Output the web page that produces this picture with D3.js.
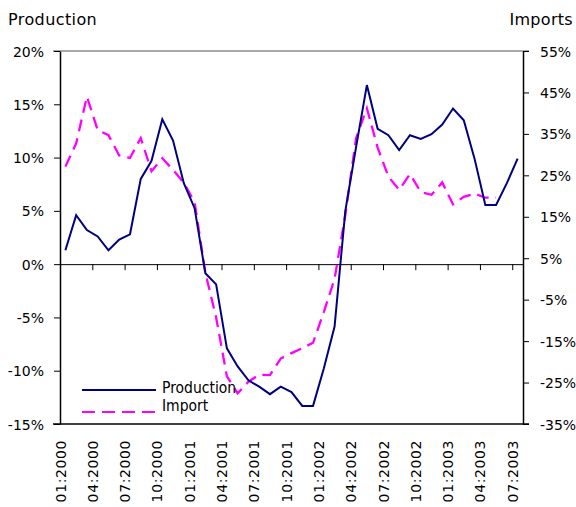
<!DOCTYPE html>
<html><head><meta charset="utf-8">
<script src="https://cdn.jsdelivr.net/npm/d3@7"></script>
<style>
html,body{margin:0;padding:0;background:#fff;}
svg{display:block;}
text{font-family:"DejaVu Sans",sans-serif;fill:#000;}
</style></head>
<body>
<svg id="c" width="576" height="507"></svg>
<script>
const categories = [];
const years = [2000, 2001, 2002, 2003];
years.forEach(y => { for (let m = 1; m <= 12; m++) { categories.push((m < 10 ? "0" + m : "" + m) + ":" + y); } });
categories.splice(43);

const production = [1.3, 4.6, 3.2, 2.6, 1.3, 2.3, 2.8, 8.0, 9.7, 13.6, 11.6, 7.6, 5.25, -0.85, -1.9, -7.9, -9.6, -10.9, -11.5, -12.2, -11.5, -12.0, -13.3, -13.3, -9.8, -5.85, 5.0, 11.0, 16.8, 12.7, 12.1, 10.7, 12.1, 11.75, 12.2, 13.1, 14.6, 13.5, 9.9, 5.55, 5.55, 7.6, 9.9];
const imports = [27.1, 32.7, 44.0, 35.9, 34.7, 29.8, 29.2, 34.0, 26.0, 29.1, 26.3, 23.2, 18.5, 1.5, -9.3, -23.5, -27.6, -24.8, -23.1, -23.2, -19.2, -17.9, -16.7, -15.4, -8.0, 0.0, 15.5, 34.0, 41.2, 31.7, 24.7, 21.5, 25.3, 21.0, 20.3, 23.3, 18.0, 19.8, 20.6, 19.6, 19.6];

const leftTicks = [-15, -10, -5, 0, 5, 10, 15, 20];
const rightTicks = [-35, -25, -15, -5, 5, 15, 25, 35, 45, 55];
const labelEvery = 3;
const seriesNames = ["Production", "Import"];
const seriesColors = ["#000080", "#FF00FF"];
const titleLeft = "Production";
const titleRight = "Imports";

const svg = d3.select("#c");
const L = 60, R = 523, T = 51, B = 424;

const x = d3.scaleBand().domain(categories).range([L, R]).paddingInner(0).paddingOuter(0);
const xIdx = d3.scaleLinear().domain([0, categories.length]).range([L, R]);
const yL = d3.scaleLinear().domain([-15, 20]).range([B, T]);
const yR = d3.scaleLinear().domain([-35, 55]).range([B, T]);
const cx = c => x(c) + x.bandwidth() / 2;

// frame top/bottom
svg.append("line").attr("x1", L - 7).attr("x2", R + 6).attr("y1", T).attr("y2", T).attr("stroke", "#555").attr("stroke-width", 1);
svg.append("line").attr("x1", L - 7).attr("x2", R + 6).attr("y1", B).attr("y2", B).attr("stroke", "#000").attr("stroke-width", 1.5);

// left axis
const gl = svg.append("g").attr("transform", `translate(${L},0)`)
  .call(d3.axisLeft(yL).tickValues(leftTicks).tickFormat(d => d + "%").tickSize(6).tickSizeOuter(0).tickPadding(10));
gl.select(".domain").attr("stroke", "#000").attr("stroke-width", 1.5);
gl.selectAll(".tick line").attr("stroke", "#000");
gl.selectAll("text").style("font-size", "14px").attr("dy", "0.36em");

// right axis
const gr = svg.append("g").attr("transform", `translate(${R},0)`)
  .call(d3.axisRight(yR).tickValues(rightTicks).tickFormat(d => d + "%").tickSize(6).tickSizeOuter(0).tickPadding(11));
gr.select(".domain").attr("stroke", "#000").attr("stroke-width", 1.5);
gr.selectAll(".tick line").attr("stroke", "#000");
gr.selectAll("text").style("font-size", "14px").attr("dy", "0.36em");

// zero category axis
const tickIdx = d3.range(0, categories.length + 1, labelEvery);
const gz = svg.append("g").attr("transform", `translate(0,${yL(0)})`)
  .call(d3.axisBottom(xIdx).tickValues(tickIdx.filter(d => d > 0 && d < categories.length)).tickFormat("").tickSize(6).tickSizeOuter(0));
gz.select(".domain").attr("stroke", "#000").attr("stroke-width", 1);
gz.selectAll(".tick line").attr("stroke", "#000");

// category labels
const gb = svg.append("g").attr("transform", `translate(0,${B})`)
  .call(d3.axisBottom(xIdx).tickValues(tickIdx.filter(d => d < categories.length)).tickFormat(d => categories[d]).tickSize(0));
gb.select(".domain").remove();
gb.selectAll("text")
  .style("font-size", "14px")
  .style("letter-spacing", "0.6px")
  .attr("text-anchor", "end")
  .attr("transform", "rotate(-90)")
  .attr("x", -16)
  .attr("y", 0)
  .attr("dy", "0.36em");

// lines
const lineP = d3.line().x((d, i) => cx(categories[i])).y(d => yL(d));
const lineI = d3.line().x((d, i) => cx(categories[i])).y(d => yR(d));

svg.append("path").datum(imports).attr("d", lineI)
  .attr("fill", "none").attr("stroke", seriesColors[1]).attr("stroke-width", 2.3)
  .attr("stroke-dasharray", "12,7");
svg.append("path").datum(production).attr("d", lineP)
  .attr("fill", "none").attr("stroke", seriesColors[0]).attr("stroke-width", 2);

// titles
svg.append("text").attr("x", 8).attr("y", 25).text(titleLeft).style("font-size", "16px").style("letter-spacing", "0.4px");
svg.append("text").attr("x", 573).attr("y", 25).attr("text-anchor", "end").text(titleRight).style("font-size", "16px").style("letter-spacing", "0.3px");

// legend
const lg = svg.append("g");
seriesNames.forEach((n, i) => {
  const yy = [390, 412][i];
  lg.append("line").attr("x1", 82).attr("x2", 156).attr("y1", yy).attr("y2", yy)
    .attr("stroke", seriesColors[i]).attr("stroke-width", 2)
    .attr("stroke-dasharray", i === 1 ? "13,7" : null);
  lg.append("text").attr("x", 162).attr("y", [393, 411][i]).text(n)
    .style("font-family", "'DejaVu Sans Condensed','DejaVu Sans',sans-serif").style("font-size", "15.5px");
});
</script>
</body></html>
